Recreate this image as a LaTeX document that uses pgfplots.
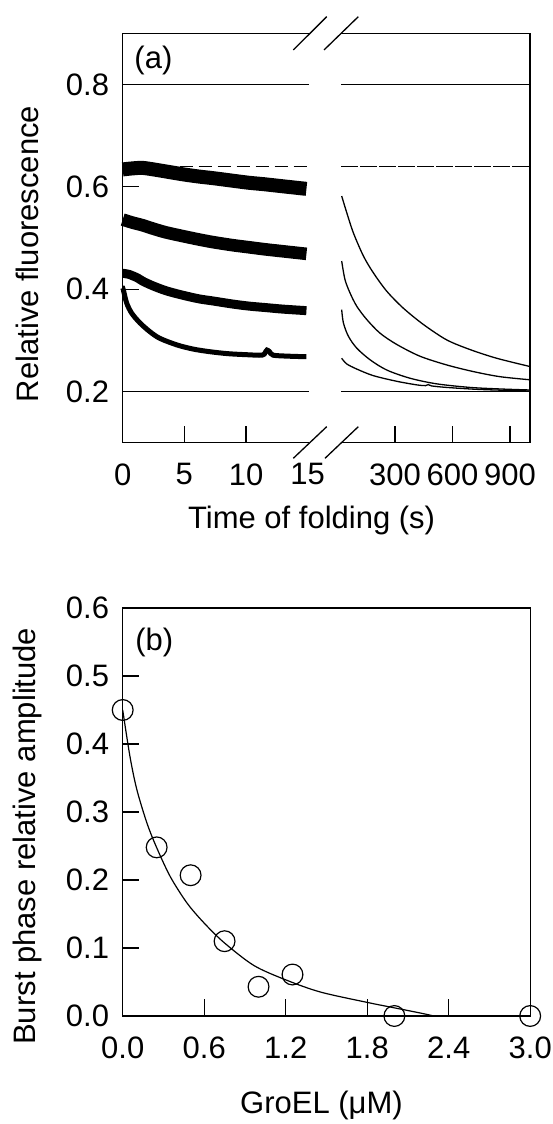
\documentclass[border=0pt]{standalone}
\usepackage{fontspec}
\setmainfont{Liberation Sans}
\usepackage{pgfplots}
\pgfplotsset{compat=1.18}
\newcommand{\lf}{\fontsize{15.5}{18}\selectfont}
\begin{document}
\begin{tikzpicture}
\useasboundingbox (0pt,0pt) rectangle (276pt,562pt);
\pgfplotsset{
  myax/.style={
    scale only axis,
    axis line style={draw=none},
    tick align=inside,
    major tick length=8.3pt,
    tick style={line width=0.6pt, black},
    tick label style={font=\lf},
    /pgf/number format/assume math mode=true,
    clip=false,
    xtick pos=bottom, ytick pos=left,
    xticklabel style={yshift=-6.8pt},
    yticklabel style={xshift=-3.3pt},
  },
}
% ---------------- panel (a), left part ----------------
\begin{axis}[myax,
  at={(61.35pt,340.65pt)}, anchor=south west,
  width=93.1pt, height=204.7pt,
  xmin=0, xmax=15.1, ymin=0.1, ymax=0.9,
  xtick={0,5,10}, xticklabels={0,5,10},
  extra x ticks={15}, extra x tick labels={15},
  extra x tick style={major tick length=0pt},
  ytick={0.2,0.4,0.6,0.8}, yticklabels={0.2,0.4,0.6,0.8},
]
\draw[line width=0.65pt] (rel axis cs:1,0) -- (rel axis cs:0,0) -- (rel axis cs:0,1) -- (rel axis cs:1,1);
\addplot[line width=0.6pt] coordinates {(0,0.8) (15.1,0.8)};
\addplot[line width=0.7pt] coordinates {(0,0.2) (15.1,0.2)};
\addplot[line width=0.6pt, dash pattern=on 6.5pt off 3pt] coordinates {(0,0.64) (15.1,0.64)};
% trace 1
\addplot[line width=7pt, smooth] coordinates {
 (0,0.634) (0.8,0.636) (1.6,0.637) (2.5,0.634) (3.5,0.630) (5,0.624) (6.2,0.620)
 (7.3,0.617) (8.9,0.612) (10.2,0.608) (11.5,0.605) (13,0.601) (14.9,0.596)};
% trace 2
\addplot[line width=6.3pt, smooth] coordinates {
 (0,0.536) (0.8,0.530) (1.6,0.525) (2.5,0.518) (3.5,0.511) (5,0.503) (6.2,0.497)
 (7.3,0.492) (8.9,0.486) (10.2,0.482) (11.5,0.478) (13,0.474) (14.9,0.469)};
% trace 3
\addplot[line width=4.5pt, smooth] coordinates {
 (0,0.431) (0.5,0.429) (1.2,0.422) (1.6,0.416) (2.3,0.408) (3.5,0.397) (4.9,0.388)
 (6.2,0.381) (7.3,0.377) (8.9,0.371) (10.2,0.367) (11.6,0.364) (13,0.361) (14.9,0.358)};
% trace 4
\addplot[line width=2.5pt, smooth] coordinates {
 (0,0.402) (0.05,0.399) (0.32,0.373) (0.73,0.353) (1.4,0.334) (2.2,0.317) (3.0,0.304)
 (4.4,0.291) (5.7,0.283) (7.0,0.278) (8.5,0.274) (10,0.272) (11.3,0.271) (11.55,0.276)
 (11.7,0.281) (11.9,0.278) (12.2,0.271) (13.5,0.269) (14.9,0.268)};
\end{axis}
% ---------------- panel (a), right part ----------------
\begin{axis}[myax,
  at={(170.65pt,340.65pt)}, anchor=south west,
  width=94.35pt, height=204.7pt,
  xmin=20, xmax=1004, ymin=0.1, ymax=0.9,
  xtick={300,600,900}, xticklabels={300,600,900},
  ytick=\empty,
]
\draw[line width=0.65pt] (rel axis cs:0,0) -- (rel axis cs:1,0) -- (rel axis cs:1,1) -- (rel axis cs:0,1);
\addplot[line width=0.6pt] coordinates {(20,0.8) (1004,0.8)};
\addplot[line width=0.8pt] coordinates {(20,0.2) (1004,0.2)};
\addplot[line width=0.6pt, dash pattern=on 8.5pt off 1pt] coordinates {(20,0.64) (1004,0.64)};
\addplot[line width=0.65pt, smooth] coordinates {
 (22,0.582) (48,0.550) (83,0.510) (135,0.465) (187,0.432) (257,0.396) (343,0.363)
 (448,0.331) (569,0.301) (691,0.282) (830,0.265) (1002,0.249)};
\addplot[line width=0.65pt, smooth] coordinates {
 (22,0.455) (39,0.419) (65,0.393) (100,0.367) (152,0.341) (222,0.314) (309,0.292)
 (430,0.269) (569,0.252) (708,0.239) (847,0.229) (1002,0.223)};
\addplot[line width=0.65pt, smooth] coordinates {
 (22,0.360) (31,0.334) (57,0.308) (100,0.285) (170,0.262) (257,0.242) (378,0.226)
 (517,0.215) (691,0.208) (847,0.205) (1002,0.203)};
\addplot[line width=0.65pt, smooth] coordinates {
 (22,0.265) (48,0.254) (100,0.244) (187,0.231) (309,0.220) (413,0.213) (460,0.2115)
 (474,0.2137) (490,0.211) (569,0.208) (743,0.204) (1002,0.201)};
\end{axis}
% break marks
\draw[line width=0.65pt] (146.65pt,537pt) -- (163.35pt,553.65pt);
\draw[line width=0.65pt] (162pt,537pt) -- (179.15pt,553.65pt);
\draw[line width=0.65pt] (146.65pt,332.85pt) -- (163.35pt,348.65pt);
\draw[line width=0.65pt] (162.5pt,332.85pt) -- (179.15pt,348.65pt);
\node[font=\lf] at (76.7pt,531.6pt) {(a)};
\node[font=\lf, rotate=90] at (13.75pt,435pt) {Relative fluorescence};
\node[font=\lf, anchor=base] at (155.8pt,297.5pt) {Time of folding (s)};
% ---------------- panel (b) ----------------
\begin{axis}[myax,
  at={(61.35pt,54pt)}, anchor=south west,
  width=203.75pt, height=204pt,
  xmin=0, xmax=3, ymin=0, ymax=0.6,
  xtick={0,0.6,1.2,1.8,2.4,3.0}, xticklabels={0.0,0.6,1.2,1.8,2.4,3.0},
  ytick={0,0.1,0.2,0.3,0.4,0.5,0.6}, yticklabels={0.0,0.1,0.2,0.3,0.4,0.5,0.6},
]
\draw[line width=0.65pt] (rel axis cs:0,0) rectangle (rel axis cs:1,1);
\addplot[line width=0.6pt, smooth] coordinates {
 (0,0.45) (0.054,0.381) (0.104,0.333) (0.178,0.284) (0.247,0.249) (0.35,0.205)
 (0.474,0.166) (0.598,0.137) (0.746,0.108) (0.968,0.074) (1.215,0.052) (1.46,0.035)
 (1.80,0.020) (2.0,0.012) (2.2,0.004) (2.29,0.0)};
\addplot[only marks, mark=o, mark size=5.2pt, mark options={line width=0.6pt}] coordinates {
 (0,0.45) (0.25,0.248) (0.5,0.207) (0.75,0.110) (1.0,0.043) (1.25,0.061) (2.0,0.0) (3.0,0.0)};
\end{axis}
\node[font=\lf] at (77.1pt,241pt) {(b)};
\node[font=\lf, rotate=90] at (13.7pt,143.9pt) {Burst phase relative amplitude};
\node[font=\lf, anchor=base] at (160.75pt,5.35pt) {GroEL (μM)};
\end{tikzpicture}
\end{document}
